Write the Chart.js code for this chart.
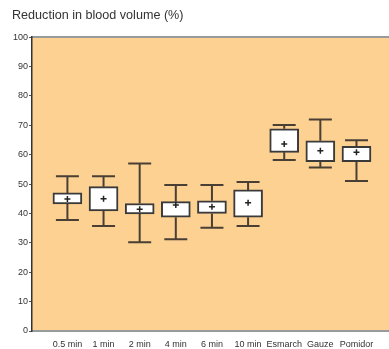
<!DOCTYPE html>
<html>
<head>
<meta charset="utf-8">
<script src="https://cdn.jsdelivr.net/npm/chart.js@4.4.1/dist/chart.umd.min.js"></script>
<style>
html,body{margin:0;padding:0;background:#fff;}
#wrap{width:389px;height:349px;}
</style>
</head>
<body>
<div id="wrap"><canvas id="c" width="389" height="349"></canvas></div>
<script>
const categories = ["0.5 min","1 min","2 min","4 min","6 min","10 min","Esmarch","Gauze","Pomidor"];
const whiskerMin = [37.8, 35.7, 30.2, 31.2, 35.1, 35.7, 58.2, 55.6, 51.0];
const boxQ1      = [43.2, 40.9, 39.8, 38.7, 40.0, 38.7, 60.8, 57.6, 57.6];
const boxQ3      = [47.0, 49.1, 43.4, 44.0, 44.3, 48.0, 68.8, 64.7, 62.8];
const whiskerMax = [52.7, 52.7, 57.0, 49.7, 49.7, 50.7, 70.1, 72.0, 64.9];
const means      = [44.9, 45.0, 41.4, 42.9, 42.3, 43.6, 63.6, 61.3, 60.8];
const yTicks     = [0,10,20,30,40,50,60,70,80,90,100];

const positions = categories.map((_, i) => i + 1);

const bgPlugin = {
  id: 'bg',
  beforeDraw(chart) {
    const {ctx, chartArea: a} = chart;
    ctx.save();
    ctx.fillStyle = '#FDD192';
    ctx.fillRect(a.left, a.top, a.right - a.left, a.bottom - a.top);
    ctx.strokeStyle = '#9a9a9a';
    ctx.lineWidth = 2;
    ctx.beginPath();
    ctx.moveTo(a.left, a.top);
    ctx.lineTo(a.right, a.top);
    ctx.stroke();
    ctx.restore();
  }
};

const whiskerPlugin = {
  id: 'whiskers',
  beforeDatasetsDraw(chart) {
    const {ctx} = chart;
    const xs = chart.scales.x, ys = chart.scales.y;
    ctx.save();
    ctx.strokeStyle = '#4a3f35';
    ctx.lineWidth = 2;
    positions.forEach((p, i) => {
      const x = xs.getPixelForValue(p);
      const yMin = ys.getPixelForValue(whiskerMin[i]);
      const yMax = ys.getPixelForValue(whiskerMax[i]);
      const yQ1 = ys.getPixelForValue(boxQ1[i]);
      const yQ3 = ys.getPixelForValue(boxQ3[i]);
      ctx.beginPath();
      ctx.moveTo(x, yMax); ctx.lineTo(x, yQ3);
      ctx.moveTo(x, yQ1); ctx.lineTo(x, yMin);
      ctx.moveTo(x - 11.5, yMax); ctx.lineTo(x + 11.5, yMax);
      ctx.moveTo(x - 11.5, yMin); ctx.lineTo(x + 11.5, yMin);
      ctx.stroke();
    });
    ctx.restore();
  }
};

new Chart(document.getElementById('c'), {
  type: 'bar',
  data: {
    datasets: [
      {
        type: 'scatter',
        data: positions.map((p, i) => ({x: p, y: means[i]})),
        pointStyle: 'cross',
        radius: 3,
        borderWidth: 1.5,
        borderColor: '#222',
        order: 0
      },
      {
        type: 'bar',
        data: positions.map((p, i) => ({x: p, y: [boxQ1[i], boxQ3[i]]})),
        backgroundColor: '#ffffff',
        borderColor: '#3a3a3a',
        borderWidth: 2,
        borderSkipped: false,
        barThickness: 29,
        order: 1
      }
    ]
  },
  options: {
    responsive: false,
    animation: false,
    devicePixelRatio: 1,
    layout: {autoPadding: false, padding: {left: 12, right: 0, top: 0, bottom: 0}},
    plugins: {
      legend: {display: false},
      tooltip: {enabled: false},
      title: {
        display: true,
        text: 'Reduction in blood volume (%)',
        align: 'start',
        color: '#333',
        font: {family: 'Liberation Sans, Arial, sans-serif', size: 12.6, weight: 'normal', lineHeight: 1.2},
        padding: {top: 8, bottom: 14}
      }
    },
    scales: {
      x: {
        type: 'linear',
        offset: false,
        min: 0.02,
        max: 9.9,
        afterBuildTicks(scale) { scale.ticks = positions.map(v => ({value: v})); },
        afterFit(scale) { scale.height = 18; scale.paddingRight = 0; scale.paddingLeft = 0; },
        grid: {display: false, drawTicks: false, offset: false},
        border: {display: true, color: '#9a9a9a', width: 2},
        ticks: {
          autoSkip: false,
          maxRotation: 0,
          padding: 8,
          color: '#333',
          font: {family: 'Liberation Sans, Arial, sans-serif', size: 9},
          callback: (v) => categories[Math.round(v) - 1] || ''
        }
      },
      y: {
        min: 0,
        max: 100,
        afterBuildTicks(scale) { scale.ticks = yTicks.map(v => ({value: v})); },
        afterFit(scale) { scale.width = 20; },
        grid: {display: true, drawOnChartArea: false, drawTicks: true, tickLength: 3, color: '#555'},
        border: {display: true, color: '#333', width: 1.5},
        ticks: {
          padding: 1,
          color: '#333',
          font: {family: 'Liberation Sans, Arial, sans-serif', size: 9}
        }
      }
    }
  },
  plugins: [bgPlugin, whiskerPlugin]
});
</script>
</body>
</html>
